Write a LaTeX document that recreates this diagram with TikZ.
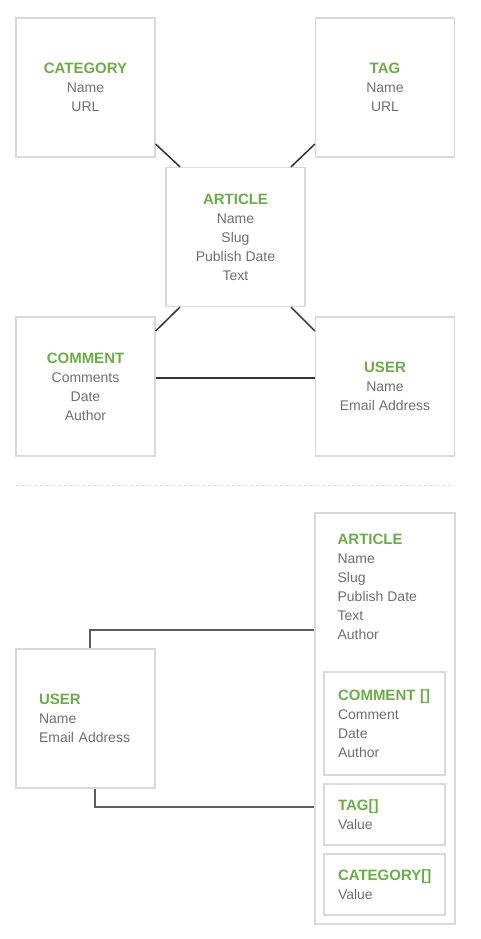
\documentclass[tikz,border=0pt]{standalone}
\usepackage{fontspec}
\setmainfont{Liberation Sans}
\usepackage{xcolor}
\usetikzlibrary{positioning}
\definecolor{titlegreen}{HTML}{6AAD45}
\definecolor{fieldgray}{HTML}{6E6E6E}
\definecolor{boxgray}{HTML}{D9D9D9}
\definecolor{linkgray}{HTML}{333333}
\newcommand{\ent}[1]{{\fontsize{15}{19}\selectfont\bfseries\color{titlegreen}#1}}

\begin{document}
\begin{tikzpicture}[x=1pt, y=-1pt]
		\tikzstyle{every node}=[font=\fontsize{14}{19}\selectfont, text=fieldgray]
		\tikzstyle{entity}=[draw=boxgray, line width=1.2pt, minimum width=139pt, minimum height=139pt, align=center, inner sep=0pt]
		\tikzstyle{member}=[draw=boxgray, line width=1.2pt, minimum width=121pt, text width=93pt, align=left, inner sep=0pt]
		\tikzstyle{link}=[draw=linkgray, line width=1.5pt]
		\useasboundingbox (0,0) rectangle (480,939);
		% relational model
		\node [entity] (cat) at (85.5,87.5) {\ent{CATEGORY}\\Name\\URL};
		\node [entity] (tag) at (385,87.5) {\ent{TAG}\\Name\\URL};
		\node [entity] (art) at (235.5,237) {\ent{ARTICLE}\\Name\\Slug\\Publish Date\\Text};
		\node [entity] (com) at (85.5,386.5) {\ent{COMMENT}\\Comments\\Date\\Author};
		\node [entity] (usr) at (385,386.5) {\ent{USER}\\Name\\Email Address};
		\draw [link] ([yshift=-56.5pt]cat.east) -- ([xshift=-55.5pt]art.north);
		\draw [link] ([yshift=-56.5pt]tag.west) -- ([xshift=55.5pt]art.north);
		\draw [link] ([xshift=-55.5pt]art.south) -- ([yshift=55.5pt]com.east);
		\draw [link] ([xshift=55.5pt]art.south) -- ([yshift=55.5pt]usr.west);
		\draw [link] ([yshift=8.5pt]com.east) -- ([yshift=8.5pt]usr.west);
		\draw [boxgray, line width=1pt, dash pattern=on 3pt off 3pt] (16,485) -- (455,485);
		% document model
		\node [entity, minimum width=140pt, minimum height=411pt] (art2) at (385,718.5) {};
		\node [anchor=north west, align=left, inner sep=0pt] (art2txt) at ([shift={(23,21.5)}]art2.north west) {\ent{ARTICLE}\\Name\\Slug\\Publish Date\\Text\\Author};
		\node [member, minimum height=103pt] (com2) at (384.5,723.5) {\ent{COMMENT []}\\Comment\\Date\\Author};
		\node [member, minimum height=61pt] (tag2) at (384.5,814.5) {\ent{TAG[]}\\Value};
		\node [member, minimum height=61pt] (cat2) at (384.5,884.5) {\ent{CATEGORY[]}\\Value};
		\node [entity, align=left, text width=93pt] (usr2) at (85.5,718.5) {\ent{USER}\\Name\\Email Address};
		\draw [link, draw=linkgray!80] ([xshift=4.5pt]usr2.north) |- ([yshift=88.5pt]art2.west);
		\draw [link, draw=linkgray!80] ([xshift=9.5pt]usr2.south) |- ([yshift=-88.5pt]art2.west);
	\end{tikzpicture}
\end{document}
